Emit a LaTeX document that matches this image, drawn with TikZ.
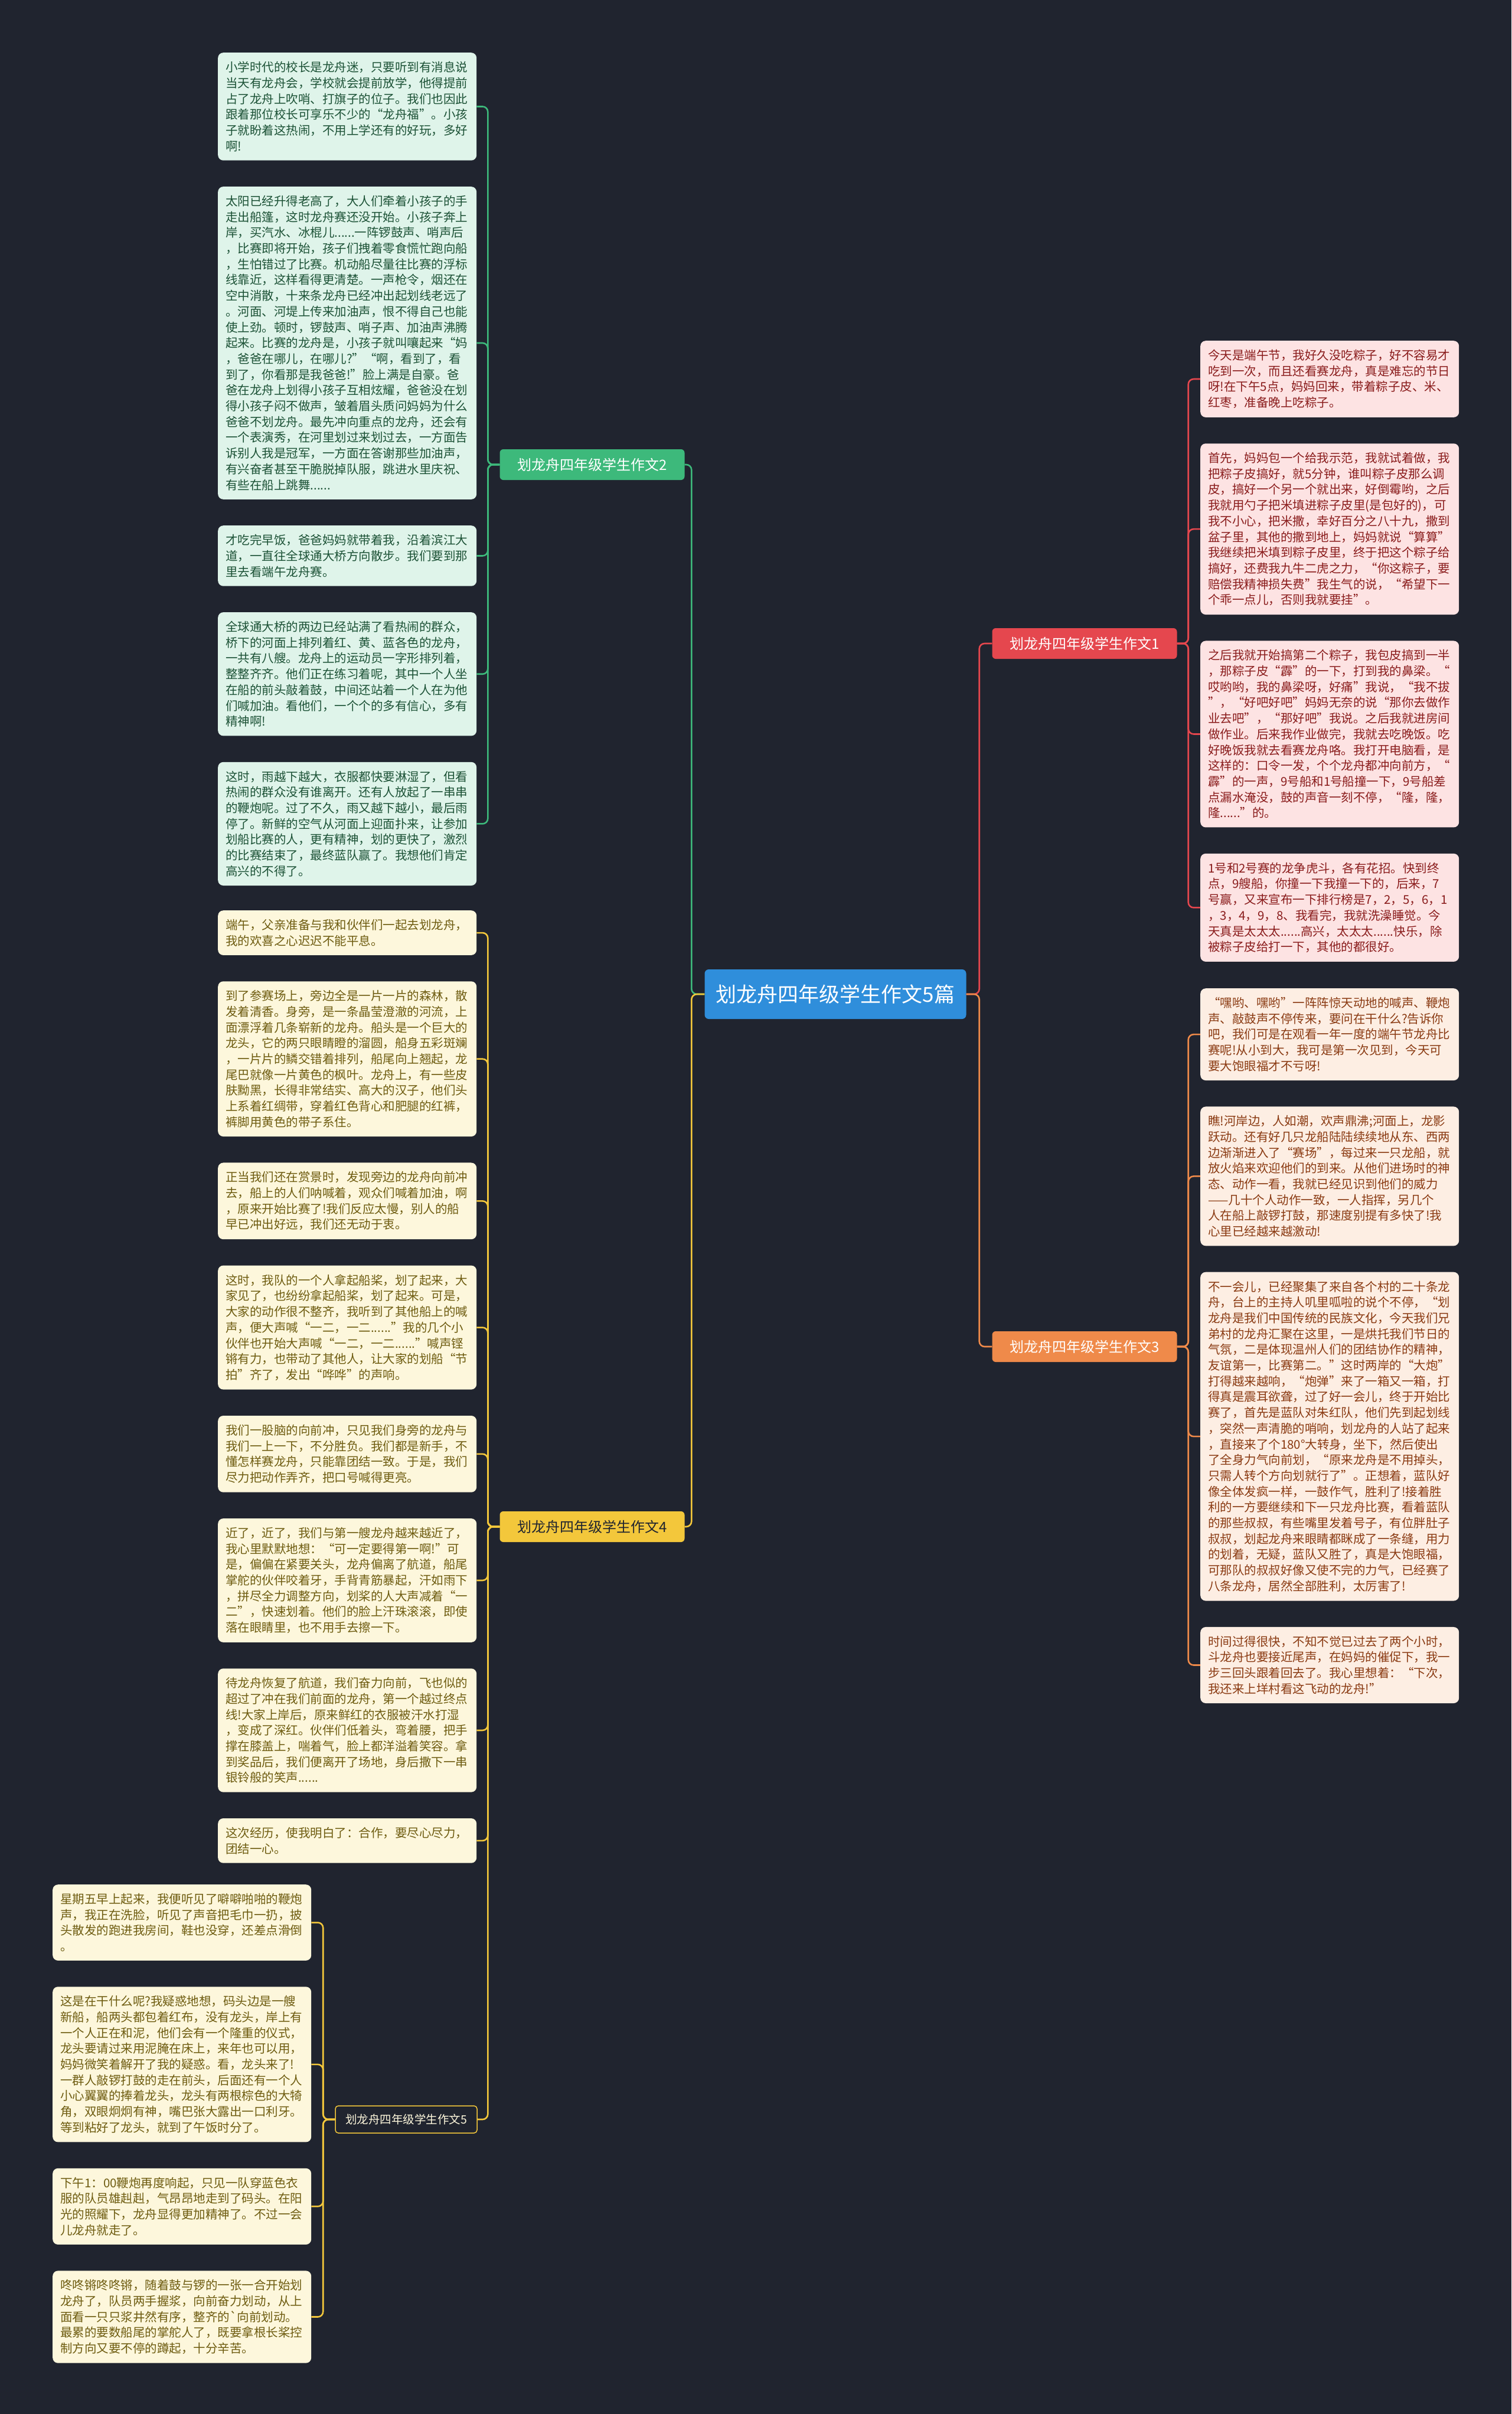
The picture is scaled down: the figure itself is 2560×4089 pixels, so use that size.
\documentclass[tikz,border=0pt]{standalone}
\usepackage{fontspec}
\newfontfamily\cjk{Noto Sans CJK SC}
\usetikzlibrary{calc}
\definecolor{bg}{HTML}{20242F}
\definecolor{cblue}{HTML}{2F8EDB}
\definecolor{gline}{HTML}{3DB97B}
\definecolor{gfill}{HTML}{DFF4EA}
\definecolor{gtext}{HTML}{1C5236}
\definecolor{rline}{HTML}{E5474E}
\definecolor{rfill}{HTML}{FDE3E3}
\definecolor{rtext}{HTML}{8A1C1C}
\definecolor{oline}{HTML}{EF8A4A}
\definecolor{ofill}{HTML}{FDEEE3}
\definecolor{otext}{HTML}{8A3A12}
\definecolor{yline}{HTML}{F3C73B}
\definecolor{yfill}{HTML}{FDF7DC}
\definecolor{ytext}{HTML}{6E5C10}
\tikzset{
  leaf/.style={rectangle, rounded corners=9pt, anchor=north west, inner xsep=13pt, inner ysep=15pt, text width=412pt, align=left, font=\cjk\fontsize{20.5}{26.7}\selectfont},
  gleaf/.style={leaf, fill=gfill, text=gtext},
  rleaf/.style={leaf, fill=rfill, text=rtext},
  oleaf/.style={leaf, fill=ofill, text=otext},
  yleaf/.style={leaf, fill=yfill, text=ytext},
  branchbox/.style={rectangle, rounded corners=6pt, minimum width=313pt, minimum height=52pt, inner sep=4pt, font=\cjk\fontsize{24}{28}\selectfont},
  conn/.style={line width=2.6pt, rounded corners=9pt},
}
\begin{document}
\begin{tikzpicture}[x=1pt,y=-1pt]
\fill[bg] (0,0) rectangle (2560,4089);
\useasboundingbox (0,0) rectangle (2560,4089);

% central node
\node[rectangle, rounded corners=7pt, fill=cblue, text=white, minimum width=443pt, minimum height=84pt, font=\cjk\fontsize{35}{40}\selectfont] (c) at (1415,1684) {划龙舟四年级学生作文5篇};

% branch nodes
\node[branchbox, fill=gline, text=white] (b2) at (1003,787) {划龙舟四年级学生作文2};
\node[branchbox, fill=rline, text=white] (b1) at (1837,1090) {划龙舟四年级学生作文1};
\node[branchbox, fill=oline, text=white] (b3) at (1837,2281) {划龙舟四年级学生作文3};
\node[branchbox, fill=yline, text=bg] (b4) at (1003,2586) {划龙舟四年级学生作文4};
\node[rectangle, rounded corners=5pt, draw=yline, line width=1.5pt, text=yfill, minimum width=240pt, minimum height=46pt, inner sep=3pt, font=\cjk\fontsize{19.5}{23}\selectfont] (b5) at (688,3590) {划龙舟四年级学生作文5};

% ---------- branch 2 leaves ----------
\node[gleaf] (g1) at (369,89) {小学时代的校长是龙舟迷，只要听到有消息说\\当天有龙舟会，学校就会提前放学，他得提前\\占了龙舟上吹哨、打旗子的位子。我们也因此\\跟着那位校长可享乐不少的“龙舟福”。小孩\\子就盼着这热闹，不用上学还有的好玩，多好\\啊!};
\node[gleaf] (g2) at ($(g1.south west)+(0,44)$) {太阳已经升得老高了，大人们牵着小孩子的手\\走出船篷，这时龙舟赛还没开始。小孩子奔上\\岸，买汽水、冰棍儿......一阵锣鼓声、哨声后\\，比赛即将开始，孩子们拽着零食慌忙跑向船\\，生怕错过了比赛。机动船尽量往比赛的浮标\\线靠近，这样看得更清楚。一声枪令，烟还在\\空中消散，十来条龙舟已经冲出起划线老远了\\。河面、河堤上传来加油声，恨不得自己也能\\使上劲。顿时，锣鼓声、哨子声、加油声沸腾\\起来。比赛的龙舟是，小孩子就叫嚷起来“妈\\，爸爸在哪儿，在哪儿?”“啊，看到了，看\\到了，你看那是我爸爸!”脸上满是自豪。爸\\爸在龙舟上划得小孩子互相炫耀，爸爸没在划\\得小孩子闷不做声，皱着眉头质问妈妈为什么\\爸爸不划龙舟。最先冲向重点的龙舟，还会有\\一个表演秀，在河里划过来划过去，一方面告\\诉别人我是冠军，一方面在答谢那些加油声，\\有兴奋者甚至干脆脱掉队服，跳进水里庆祝、\\有些在船上跳舞......};
\node[gleaf] (g3) at ($(g2.south west)+(0,44)$) {才吃完早饭，爸爸妈妈就带着我，沿着滨江大\\道，一直往全球通大桥方向散步。我们要到那\\里去看端午龙舟赛。};
\node[gleaf] (g4) at ($(g3.south west)+(0,44)$) {全球通大桥的两边已经站满了看热闹的群众，\\桥下的河面上排列着红、黄、蓝各色的龙舟，\\一共有八艘。龙舟上的运动员一字形排列着，\\整整齐齐。他们正在练习着呢，其中一个人坐\\在船的前头敲着鼓，中间还站着一个人在为他\\们喊加油。看他们，一个个的多有信心，多有\\精神啊!};
\node[gleaf] (g5) at ($(g4.south west)+(0,44)$) {这时，雨越下越大，衣服都快要淋湿了，但看\\热闹的群众没有谁离开。还有人放起了一串串\\的鞭炮呢。过了不久，雨又越下越小，最后雨\\停了。新鲜的空气从河面上迎面扑来，让参加\\划船比赛的人，更有精神，划的更快了，激烈\\的比赛结束了，最终蓝队赢了。我想他们肯定\\高兴的不得了。};

% ---------- branch 4 leaves ----------
\node[yleaf] (y1) at (369,1542) {端午，父亲准备与我和伙伴们一起去划龙舟，\\我的欢喜之心迟迟不能平息。};
\node[yleaf] (y2) at ($(y1.south west)+(0,44)$) {到了参赛场上，旁边全是一片一片的森林，散\\发着清香。身旁，是一条晶莹澄澈的河流，上\\面漂浮着几条崭新的龙舟。船头是一个巨大的\\龙头，它的两只眼睛瞪的溜圆，船身五彩斑斓\\，一片片的鳞交错着排列，船尾向上翘起，龙\\尾巴就像一片黄色的枫叶。龙舟上，有一些皮\\肤黝黑，长得非常结实、高大的汉子，他们头\\上系着红绸带，穿着红色背心和肥腿的红裤，\\裤脚用黄色的带子系住。};
\node[yleaf] (y3) at ($(y2.south west)+(0,44)$) {正当我们还在赏景时，发现旁边的龙舟向前冲\\去，船上的人们呐喊着，观众们喊着加油，啊\\，原来开始比赛了!我们反应太慢，别人的船\\早已冲出好远，我们还无动于衷。};
\node[yleaf] (y4) at ($(y3.south west)+(0,44)$) {这时，我队的一个人拿起船桨，划了起来，大\\家见了，也纷纷拿起船桨，划了起来。可是，\\大家的动作很不整齐，我听到了其他船上的喊\\声，便大声喊“一二，一二......”我的几个小\\伙伴也开始大声喊“一二，一二......”喊声铿\\锵有力，也带动了其他人，让大家的划船“节\\拍”齐了，发出“哗哗”的声响。};
\node[yleaf] (y5) at ($(y4.south west)+(0,44)$) {我们一股脑的向前冲，只见我们身旁的龙舟与\\我们一上一下，不分胜负。我们都是新手，不\\懂怎样赛龙舟，只能靠团结一致。于是，我们\\尽力把动作弄齐，把口号喊得更亮。};
\node[yleaf] (y6) at ($(y5.south west)+(0,44)$) {近了，近了，我们与第一艘龙舟越来越近了，\\我心里默默地想：“可一定要得第一啊!”可\\是，偏偏在紧要关头，龙舟偏离了航道，船尾\\掌舵的伙伴咬着牙，手背青筋暴起，汗如雨下\\，拼尽全力调整方向，划桨的人大声减着“一\\二”，快速划着。他们的脸上汗珠滚滚，即使\\落在眼睛里，也不用手去擦一下。};
\node[yleaf] (y7) at ($(y6.south west)+(0,44)$) {待龙舟恢复了航道，我们奋力向前，飞也似的\\超过了冲在我们前面的龙舟，第一个越过终点\\线!大家上岸后，原来鲜红的衣服被汗水打湿\\，变成了深红。伙伴们低着头，弯着腰，把手\\撑在膝盖上，喘着气，脸上都洋溢着笑容。拿\\到奖品后，我们便离开了场地，身后撒下一串\\银铃般的笑声......};
\node[yleaf] (y8) at ($(y7.south west)+(0,44)$) {这次经历，使我明白了：合作，要尽心尽力，\\团结一心。};

% ---------- branch 5 leaves ----------
\node[yleaf] (f1) at (89,3192) {星期五早上起来，我便听见了噼噼啪啪的鞭炮\\声，我正在洗脸，听见了声音把毛巾一扔，披\\头散发的跑进我房间，鞋也没穿，还差点滑倒\\。};
\node[yleaf] (f2) at ($(f1.south west)+(0,44)$) {这是在干什么呢?我疑惑地想，码头边是一艘\\新船，船两头都包着红布，没有龙头，岸上有\\一个人正在和泥，他们会有一个隆重的仪式，\\龙头要请过来用泥腌在床上，来年也可以用，\\妈妈微笑着解开了我的疑惑。看，龙头来了!\\一群人敲锣打鼓的走在前头，后面还有一个人\\小心翼翼的捧着龙头，龙头有两根棕色的大犄\\角，双眼炯炯有神，嘴巴张大露出一口利牙。\\等到粘好了龙头，就到了午饭时分了。};
\node[yleaf] (f3) at ($(f2.south west)+(0,44)$) {下午1：00鞭炮再度响起，只见一队穿蓝色衣\\服的队员雄赳赳，气昂昂地走到了码头。在阳\\光的照耀下，龙舟显得更加精神了。不过一会\\儿龙舟就走了。};
\node[yleaf] (f4) at ($(f3.south west)+(0,44)$) {咚咚锵咚咚锵，随着鼓与锣的一张一合开始划\\龙舟了，队员两手握浆，向前奋力划动，从上\\面看一只只浆井然有序，整齐的`向前划动。\\最累的要数船尾的掌舵人了，既要拿根长桨控\\制方向又要不停的蹲起，十分辛苦。};

% ---------- branch 1 leaves ----------
\node[rleaf] (r1) at (2033,577) {今天是端午节，我好久没吃粽子，好不容易才\\吃到一次，而且还看赛龙舟，真是难忘的节日\\呀!在下午5点，妈妈回来，带着粽子皮、米、\\红枣，准备晚上吃粽子。};
\node[rleaf] (r2) at ($(r1.south west)+(0,44)$) {首先，妈妈包一个给我示范，我就试着做，我\\把粽子皮搞好，就5分钟，谁叫粽子皮那么调\\皮，搞好一个另一个就出来，好倒霉哟，之后\\我就用勺子把米填进粽子皮里(是包好的)，可\\我不小心，把米撒，幸好百分之八十九，撒到\\盆子里，其他的撒到地上，妈妈就说“算算”\\我继续把米填到粽子皮里，终于把这个粽子给\\搞好，还费我九牛二虎之力，“你这粽子，要\\赔偿我精神损失费”我生气的说，“希望下一\\个乖一点儿，否则我就要挂”。};
\node[rleaf] (r3) at ($(r2.south west)+(0,44)$) {之后我就开始搞第二个粽子，我包皮搞到一半\\，那粽子皮“霹”的一下，打到我的鼻梁。“\\哎哟哟，我的鼻梁呀，好痛”我说，“我不拔\\”，“好吧好吧”妈妈无奈的说“那你去做作\\业去吧”，“那好吧”我说。之后我就进房间\\做作业。后来我作业做完，我就去吃晚饭。吃\\好晚饭我就去看赛龙舟咯。我打开电脑看，是\\这样的：口令一发，个个龙舟都冲向前方，“\\霹”的一声，9号船和1号船撞一下，9号船差\\点漏水淹没，鼓的声音一刻不停，“隆，隆，\\隆......”的。};
\node[rleaf] (r4) at ($(r3.south west)+(0,44)$) {1号和2号赛的龙争虎斗，各有花招。快到终\\点，9艘船，你撞一下我撞一下的，后来，7\\号赢，又来宣布一下排行榜是7，2，5，6，1\\，3，4，9，8、我看完，我就洗澡睡觉。今\\天真是太太太......高兴，太太太......快乐，除\\被粽子皮给打一下，其他的都很好。};

% ---------- branch 3 leaves ----------
\node[oleaf] (o1) at (2033,1674) {“嘿哟、嘿哟”一阵阵惊天动地的喊声、鞭炮\\声、敲鼓声不停传来，要问在干什么?告诉你\\吧，我们可是在观看一年一度的端午节龙舟比\\赛呢!从小到大，我可是第一次见到，今天可\\要大饱眼福才不亏呀!};
\node[oleaf] (o2) at ($(o1.south west)+(0,44)$) {瞧!河岸边，人如潮，欢声鼎沸;河面上，龙影\\跃动。还有好几只龙船陆陆续续地从东、西两\\边渐渐进入了“赛场”，每过来一只龙船，就\\放火焰来欢迎他们的到来。从他们进场时的神\\态、动作一看，我就已经见识到他们的威力\\——几十个人动作一致，一人指挥，另几个\\人在船上敲锣打鼓，那速度别提有多快了!我\\心里已经越来越激动!};
\node[oleaf] (o3) at ($(o2.south west)+(0,44)$) {不一会儿，已经聚集了来自各个村的二十条龙\\舟，台上的主持人叽里呱啦的说个不停，“划\\龙舟是我们中国传统的民族文化，今天我们兄\\弟村的龙舟汇聚在这里，一是烘托我们节日的\\气氛，二是体现温州人们的团结协作的精神，\\友谊第一，比赛第二。”这时两岸的“大炮”\\打得越来越响，“炮弹”来了一箱又一箱，打\\得真是震耳欲聋，过了好一会儿，终于开始比\\赛了，首先是蓝队对朱红队，他们先到起划线\\，突然一声清脆的哨响，划龙舟的人站了起来\\，直接来了个180°大转身，坐下，然后使出\\了全身力气向前划，“原来龙舟是不用掉头，\\只需人转个方向划就行了”。正想着，蓝队好\\像全体发疯一样，一鼓作气，胜利了!接着胜\\利的一方要继续和下一只龙舟比赛，看着蓝队\\的那些叔叔，有些嘴里发着号子，有位胖肚子\\叔叔，划起龙舟来眼睛都眯成了一条缝，用力\\的划着，无疑，蓝队又胜了，真是大饱眼福，\\可那队的叔叔好像又使不完的力气，已经赛了\\八条龙舟，居然全部胜利，太厉害了!};
\node[oleaf] (o4) at ($(o3.south west)+(0,44)$) {时间过得很快，不知不觉已过去了两个小时，\\斗龙舟也要接近尾声，在妈妈的催促下，我一\\步三回头跟着回去了。我心里想着：“下次，\\我还来上垟村看这飞动的龙舟!”};

% ---------- connectors ----------
\draw[conn, gline] (c.west) -- ++(-22,0) |- (b2.east);
\draw[conn, yline] (c.west) -- ++(-22,0) |- (b4.east);
\draw[conn, rline] (c.east) -- ++(22,0) |- (b1.west);
\draw[conn, oline] (c.east) -- ++(22,0) |- (b3.west);

\foreach \n in {g1,g2,g3,g4,g5} \draw[conn, gline] (b2.west) -- ++(-20,0) |- (\n.east);
\foreach \n in {y1,y2,y3,y4,y5,y6,y7,y8,b5} \draw[conn, yline] (b4.west) -- ++(-20,0) |- (\n.east);
\foreach \n in {f1,f2,f3,f4} \draw[conn, yline] (b5.west) -- ++(-20,0) |- (\n.east);
\foreach \n in {r1,r2,r3,r4} \draw[conn, rline] (b1.east) -- ++(19,0) |- (\n.west);
\foreach \n in {o1,o2,o3,o4} \draw[conn, oline] (b3.east) -- ++(19,0) |- (\n.west);
\end{tikzpicture}
\end{document}
